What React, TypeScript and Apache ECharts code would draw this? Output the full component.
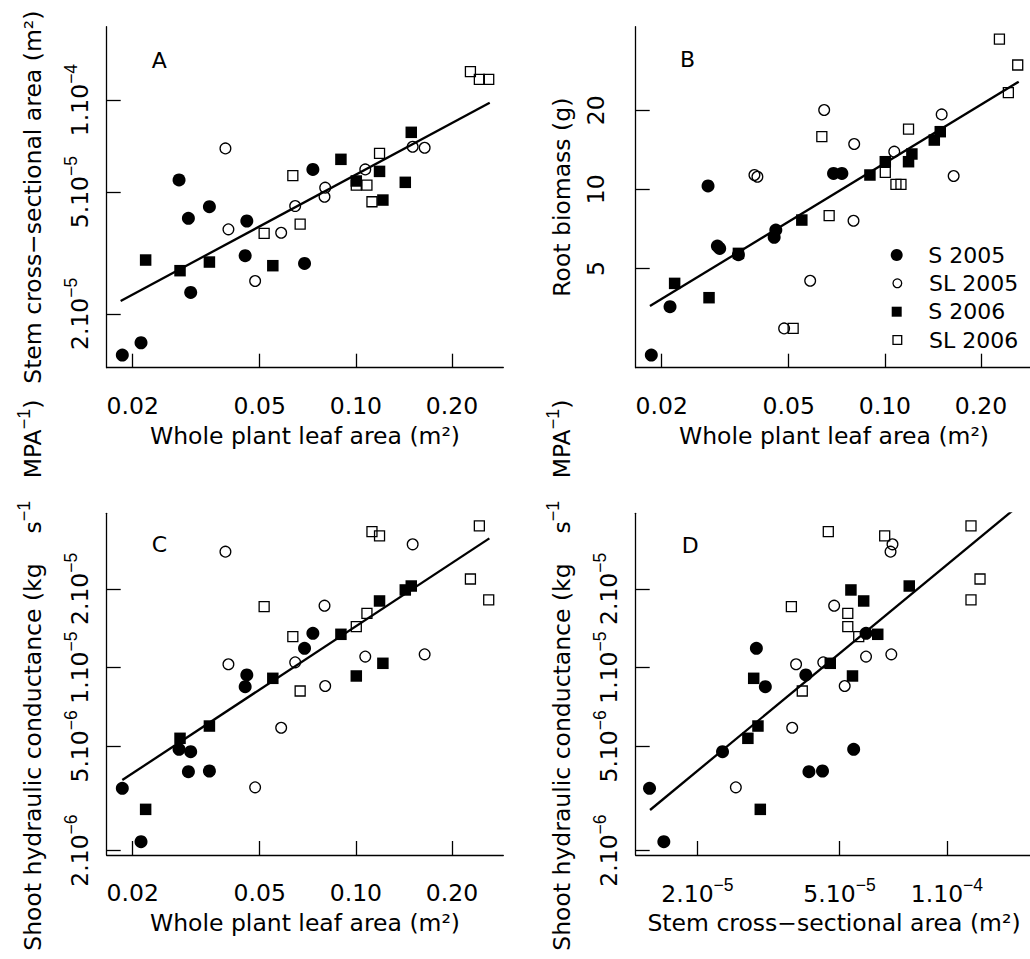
import React, { useEffect, useRef } from "react";
import * as echarts from "echarts";

const FONT = "DejaVu Sans";
const SUPFONT = "Liberation Sans";

// ---- per-plant data, four groups ----
// S 2005 (filled circles)
const s05Leaf = [0.01856, 0.02124, 0.02794, 0.02989, 0.03039, 0.03478, 0.04555, 0.04501, 0.06906, 0.07334];
const s05Stem = [1.468e-5, 1.61e-5, 5.479e-5, 4.106e-5, 2.351e-5, 4.481e-5, 4.024e-5, 3.099e-5, 2.925e-5, 5.934e-5];
const s05Root = [2.345, 3.58, 10.3, 6.088, 5.965, 5.643, 7.004, 6.569, 11.5, 11.5];
const s05Cond = [3.458e-6, 2.163e-6, 4.874e-6, 4.004e-6, 4.775e-6, 4.028e-6, 9.375e-6, 8.46e-6, 1.185e-5, 1.353e-5];

// SL 2005 (open circles)
const sl05Leaf = [0.03904, 0.03989, 0.04836, 0.05835, 0.06455, 0.08015, 0.07976, 0.107, 0.1506, 0.1642];
const sl05Stem = [6.95e-5, 3.779e-5, 2.562e-5, 3.685e-5, 4.503e-5, 5.171e-5, 4.831e-5, 5.934e-5, 7.038e-5, 6.985e-5];
const sl05Root = [11.34, 11.17, 2.961, 4.495, 20.03, 14.87, 7.6, 13.91, 19.28, 11.24];
const sl05Cond = [2.775e-5, 1.03e-5, 3.488e-6, 5.896e-6, 1.048e-5, 8.509e-6, 1.725e-5, 1.102e-5, 2.96e-5, 1.124e-5];

// S 2006 (filled squares)
const s06Leaf = [0.02196, 0.02814, 0.03478, 0.05494, 0.08978, 0.1003, 0.1186, 0.1215, 0.1428, 0.1491];
const s06Stem = [3.0e-5, 2.769e-5, 2.955e-5, 2.875e-5, 6.4e-5, 5.438e-5, 5.845e-5, 4.711e-5, 5.383e-5, 7.842e-5];
const s06Root = [4.391, 3.874, 5.71, 7.645, 11.34, 12.74, 12.74, 13.63, 15.4, 16.57];
const s06Cond = [2.874e-6, 5.37e-6, 5.983e-6, 9.104e-6, 1.341e-5, 9.293e-6, 1.798e-5, 1.039e-5, 1.981e-5, 2.051e-5];

// SL 2006 (open squares)
const sl06Leaf = [0.05161, 0.06347, 0.06691, 0.1003, 0.1083, 0.1123, 0.1186, 0.2284, 0.2436, 0.2606];
const sl06Stem = [3.666e-5, 5.661e-5, 3.933e-5, 5.275e-5, 5.275e-5, 4.652e-5, 6.693e-5, 1.238e-4, 1.168e-4, 1.168e-4];
const sl06Root = [2.961, 15.86, 7.943, 11.6, 10.45, 10.45, 16.96, 37.28, 23.32, 29.71];
const sl06Cond = [1.711e-5, 1.314e-5, 8.144e-6, 1.435e-5, 1.613e-5, 3.309e-5, 3.186e-5, 2.182e-5, 3.479e-5, 1.814e-5];

// ---- fitted lines (end points) ----
const fitAx = [0.01834, 0.2625];
const fitAy = [2.203e-5, 9.8e-5];
const fitBx = [0.01838, 0.2625];
const fitBy = [3.6, 25.67];
const fitCx = [0.01856, 0.2618];
const fitCy = [3.72e-6, 3.12e-5];
const fitDx = [1.473e-5, 1.7e-4];
const fitDy = [2.858e-6, 4.494e-5];

// ---- axis ranges ----
const leafRange = [0.016584, 0.28951];
const stemRangeY = [1.3344e-5, 1.7362e-4];
const stemRangeX = [1.3428e-5, 1.7346e-4];
const rootRange = [2.099, 41.54];
const condRange = [1.9235e-6, 3.8889e-5];

// ---- ticks ----
const leafTicks = [0.02, 0.05, 0.1, 0.2];
const leafTickLabels = ["0.02", "0.05", "0.10", "0.20"];
const rootTicks = [5, 10, 20];
const rootTickLabels = ["5", "10", "20"];
const stemTicks = [2e-5, 5e-5, 1e-4];
const stemTickMant = ["2", "5", "1"];
const stemTickExp = ["\u22125", "\u22125", "\u22124"];
const condTicks = [2e-6, 5e-6, 1e-5, 2e-5];
const condTickMant = ["2", "5", "1", "2"];
const condTickExp = ["\u22126", "\u22126", "\u22125", "\u22125"];

const legendNames = ["S 2005", "SL 2005", "S 2006", "SL 2006"];
const panelLetters = ["A", "B", "C", "D"];

const L = (v: number) => Math.log10(v);
const findIdx = (ticks: number[], v: number) => {
  let best = 0;
  let bd = Infinity;
  ticks.forEach((t, i) => {
    const d = Math.abs(L(t) - v);
    if (d < bd) { bd = d; best = i; }
  });
  return best;
};

const FS = 23.5;
const supRich = {
  b: { fontFamily: FONT, fontSize: FS, lineHeight: 30, verticalAlign: "bottom", color: "#000" },
  s: { fontFamily: SUPFONT, fontSize: 17.5, lineHeight: 16, verticalAlign: "top", color: "#000" },
};

export default function App() {
  const ref = useRef<HTMLDivElement>(null);
  useEffect(() => {
    document.body.style.margin = "0";
    if (!ref.current) return;
    const chart = echarts.init(ref.current, null, { renderer: "svg" });

    const groups: any[] = [
      { name: legendNames[0], leaf: s05Leaf, stem: s05Stem, root: s05Root, cond: s05Cond, symbol: "circle", size: 13, filled: true },
      { name: legendNames[1], leaf: sl05Leaf, stem: sl05Stem, root: sl05Root, cond: sl05Cond, symbol: "circle", size: 10.7, filled: false },
      { name: legendNames[2], leaf: s06Leaf, stem: s06Stem, root: s06Root, cond: s06Cond, symbol: "rect", size: 11.5, filled: true },
      { name: legendNames[3], leaf: sl06Leaf, stem: sl06Stem, root: sl06Root, cond: sl06Cond, symbol: "rect", size: 10, filled: false },
    ];
    const panels = [
      { xKey: "leaf", yKey: "stem", fx: fitAx, fy: fitAy },
      { xKey: "leaf", yKey: "root", fx: fitBx, fy: fitBy },
      { xKey: "leaf", yKey: "cond", fx: fitCx, fy: fitCy },
      { xKey: "stem", yKey: "cond", fx: fitDx, fy: fitDy },
    ];

    const gridPos = [
      { left: 106.7, top: 26.7 },
      { left: 635.7, top: 26.7 },
      { left: 106.7, top: 513.3 },
      { left: 635.7, top: 513.3 },
    ];
    const grid = gridPos.map((g, i) => ({
      left: g.left,
      top: g.top,
      width: 396.6,
      height: i < 2 ? 341 : 341.7,
      outerBoundsMode: "none",
      containLabel: false,
    }));

    const lineStyle = { color: "#000", width: 1.3 };
    const baseAxis = (extra: any) => ({
      type: "value",
      splitLine: { show: false },
      axisLine: { show: true, onZero: false, lineStyle },
      nameLocation: "middle",
      nameMoveOverlap: false,
      nameTextStyle: { fontFamily: FONT, fontSize: FS, color: "#000" },
      ...extra,
    });

    const leafX = (gi: number) =>
      baseAxis({
        gridIndex: gi,
        min: L(leafRange[0]),
        max: L(leafRange[1]),
        axisTick: { show: true, inside: true, length: 14, lineStyle, customValues: leafTicks.map(L) },
        axisLabel: {
          customValues: leafTicks.map(L),
          formatter: (v: number) => leafTickLabels[findIdx(leafTicks, v)],
          margin: 26,
          hideOverlap: false,
          fontFamily: FONT,
          fontSize: FS,
          color: "#000",
        },
        name: "Whole plant leaf area (m\u00b2)",
        nameGap: 56,
      });

    const xAxis = [
      leafX(0),
      leafX(1),
      leafX(2),
      baseAxis({
        gridIndex: 3,
        min: L(stemRangeX[0]),
        max: L(stemRangeX[1]),
        axisTick: { show: true, inside: true, length: 14, lineStyle, customValues: stemTicks.map(L) },
        axisLabel: {
          customValues: stemTicks.map(L),
          formatter: (v: number) => {
            const i = findIdx(stemTicks, v);
            return `{b|${stemTickMant[i]}.10}{s|${stemTickExp[i]}}`;
          },
          rich: supRich,
          margin: 21,
          hideOverlap: false,
          fontFamily: FONT,
          fontSize: FS,
          color: "#000",
        },
        name: "Stem cross\u2212sectional area (m\u00b2)",
        nameGap: 55.8,
      }),
    ];

    const TFS = 23.5;
    const condName =
      "{p|Shoot hydraulic conductance (kg}{t|    }{t|s}{s|\u22121}{t|   }{t|MPA}{s|\u22121}{t|)}";
    const condNameStyle = {
      fontFamily: FONT,
      fontSize: TFS,
      color: "#000",
      rich: {
        p: { fontFamily: FONT, fontSize: TFS, lineHeight: 30, verticalAlign: "bottom", color: "#000", padding: [0, 0, 0, 18] },
        t: { fontFamily: FONT, fontSize: TFS, lineHeight: 30, verticalAlign: "bottom", color: "#000" },
        s: { fontFamily: SUPFONT, fontSize: 18, lineHeight: 16, verticalAlign: "top", color: "#000" },
      },
    };

    const condY = (gi: number) =>
      baseAxis({
        gridIndex: gi,
        min: L(condRange[0]),
        max: L(condRange[1]),
        axisTick: { show: true, inside: true, length: 14, lineStyle, customValues: condTicks.map(L) },
        axisLabel: {
          customValues: condTicks.map(L),
          formatter: (v: number) => {
            const i = findIdx(condTicks, v);
            return `{b|${condTickMant[i]}.10}{s|${condTickExp[i]}}`;
          },
          rich: supRich,
          rotate: 90,
          margin: 14.8,
          hideOverlap: false,
          fontFamily: FONT,
          fontSize: FS,
          color: "#000",
        },
        name: condName,
        nameRotate: 90,
        nameGap: 61.4,
        nameTextStyle: condNameStyle,
      });

    const yAxis = [
      baseAxis({
        gridIndex: 0,
        min: L(stemRangeY[0]),
        max: L(stemRangeY[1]),
        axisTick: { show: true, inside: true, length: 14, lineStyle, customValues: stemTicks.map(L) },
        axisLabel: {
          customValues: stemTicks.map(L),
          formatter: (v: number) => {
            const i = findIdx(stemTicks, v);
            return `{b|${stemTickMant[i]}.10}{s|${stemTickExp[i]}}`;
          },
          rich: supRich,
          rotate: 90,
          margin: 14.8,
          hideOverlap: false,
          fontFamily: FONT,
          fontSize: FS,
          color: "#000",
        },
        name: "Stem cross\u2212sectional area (m\u00b2)",
        nameRotate: 90,
        nameGap: 61.4,
      }),
      baseAxis({
        gridIndex: 1,
        min: L(rootRange[0]),
        max: L(rootRange[1]),
        axisTick: { show: true, inside: true, length: 14, lineStyle, customValues: rootTicks.map(L) },
        axisLabel: {
          customValues: rootTicks.map(L),
          formatter: (v: number) => rootTickLabels[findIdx(rootTicks, v)],
          rotate: 90,
          margin: 28,
          hideOverlap: false,
          fontFamily: FONT,
          fontSize: FS,
          color: "#000",
        },
        name: "Root biomass (g)",
        nameRotate: 90,
        nameGap: 62,
      }),
      condY(2),
      condY(3),
    ];

    const series: any[] = [];
    panels.forEach((p, pi) => {
      groups.forEach((g) => {
        series.push({
          type: "scatter",
          name: g.name,
          xAxisIndex: pi,
          yAxisIndex: pi,
          symbol: g.symbol,
          symbolSize: g.size,
          silent: true,
          itemStyle: g.filled
            ? { color: "#000", borderWidth: 0, opacity: 1 }
            : { color: "rgba(0,0,0,0)", borderColor: "#000", borderWidth: 1.3, opacity: 1 },
          data: g[p.xKey].map((v: number, i: number) => [L(v), L(g[p.yKey][i])]),
          z: 3,
        });
      });
      series.push({
        type: "line",
        xAxisIndex: pi,
        yAxisIndex: pi,
        symbol: "none",
        showSymbol: false,
        silent: true,
        clip: true,
        lineStyle: { color: "#000", width: 2.3 },
        data: p.fx.map((v: number, i: number) => [L(v), L(p.fy[i])]),
        z: 4,
      });
    });

    const legendItems = [
      { name: legendNames[0], icon: "circle", w: 12, style: { color: "#000", borderWidth: 0 } },
      { name: legendNames[1], icon: "circle", w: 8.7, style: { color: "rgba(0,0,0,0)", borderColor: "#000", borderWidth: 1.3 } },
      { name: legendNames[2], icon: "rect", w: 10, style: { color: "#000", borderWidth: 0 } },
      { name: legendNames[3], icon: "rect", w: 8.7, style: { color: "rgba(0,0,0,0)", borderColor: "#000", borderWidth: 1.3 } },
    ];
    const legendRowY = [255, 283.3, 311.7, 340];
    const legend = legendItems.map((it, i) => ({
      show: true,
      orient: "vertical",
      left: 896.7 - it.w / 2,
      top: legendRowY[i] - 11,
      padding: 0,
      itemWidth: it.w,
      itemHeight: it.w,
      selectedMode: false,
      data: [{ name: it.name, icon: it.icon, itemStyle: it.style }],
      formatter: "{t|{name}}",
      textStyle: {
        fontFamily: FONT,
        fontSize: 22,
        color: "#000",
        rich: { t: { fontFamily: FONT, fontSize: 22, color: "#000", padding: [0, 0, 0, 26.6 - it.w / 2] } },
      },
    }));

    const letterPos = [
      [151.7, 60.5],
      [680, 59.2],
      [151.7, 544.2],
      [681.7, 545],
    ];
    const graphic = panelLetters.map((t, i) => ({
      type: "text",
      x: letterPos[i][0],
      y: letterPos[i][1],
      silent: true,
      style: {
        text: t,
        font: `22px "${FONT}"`,
        fill: "#000",
        textAlign: "left",
        textVerticalAlign: "middle",
        verticalAlign: "middle",
      },
    }));

    chart.setOption({
      animation: false,
      backgroundColor: "#fff",
      textStyle: { fontFamily: FONT, color: "#000" },
      grid,
      xAxis,
      yAxis,
      series,
      legend,
      graphic,
    });
    return () => chart.dispose();
  }, []);

  return <div ref={ref} style={{ width: 1030, height: 959 }} />;
}
